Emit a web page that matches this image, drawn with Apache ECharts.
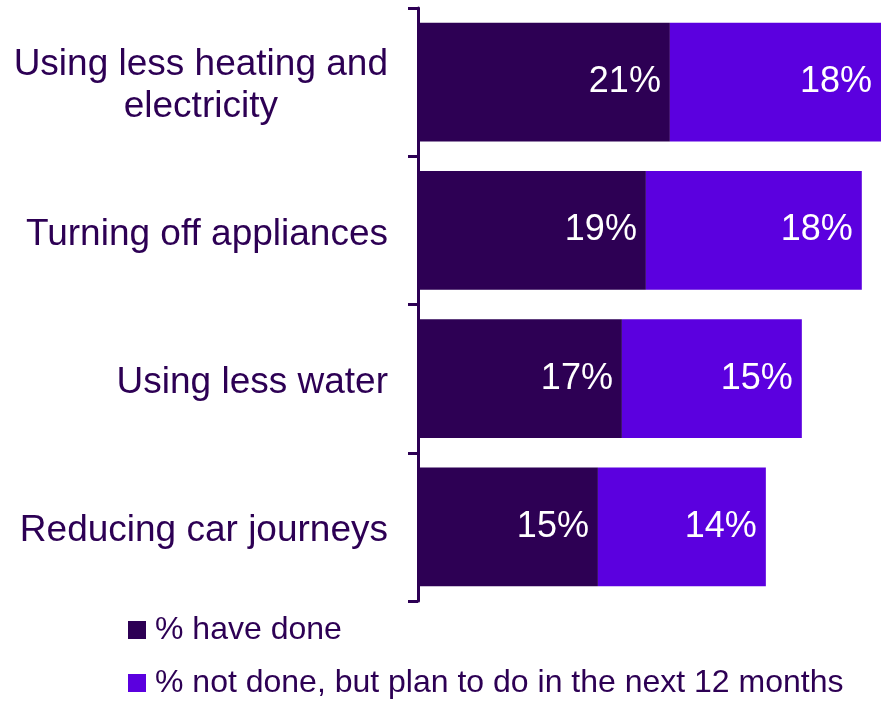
<!DOCTYPE html>
<html>
<head>
<meta charset="utf-8">
<script src="https://cdn.jsdelivr.net/npm/echarts@6/dist/echarts.min.js"></script>
<style>
html,body{margin:0;padding:0;background:#fff;}
#chart{width:881px;height:701px;}
</style>
</head>
<body>
<div id="chart"></div>
<script>
var categories = ["Using less heating and\nelectricity", "Turning off appliances", "Using less water", "Reducing car journeys"];
var haveDone = [21, 19, 17, 15];
var planToDo = [18, 18, 15, 14];
var seriesNames = ["% have done", "% not done, but plan to do in the next 12 months"];

var DARK = '#2D0054';
var LIGHT = '#5B00DF';
var TEXT = '#2D0054';
var FONT = '"Liberation Sans", Arial, sans-serif';

var chart = echarts.init(document.getElementById('chart'), null, {renderer: 'canvas'});
var labelStyle = {
  show: true,
  position: 'insideRight',
  distance: 9,
  color: '#ffffff',
  fontFamily: FONT,
  fontSize: 36,
  padding: [7, 0, 0, 0],
  formatter: '{c}%'
};
function legendFor(name, top) {
  return {
    orient: 'vertical',
    left: 123,
    top: top,
    itemWidth: 18,
    itemHeight: 18,
    icon: 'rect',
    selectedMode: false,
    textStyle: {
      color: TEXT,
      fontFamily: FONT,
      fontSize: 32,
      lineHeight: 36,
      padding: [0, 0, 0, 4]
    },
    data: [name]
  };
}
chart.setOption({
  animation: false,
  backgroundColor: '#ffffff',
  grid: {left: 418, right: 0, top: 8, bottom: 100, containLabel: false},
  legend: [legendFor(seriesNames[0], 607), legendFor(seriesNames[1], 660)],
  xAxis: {type: 'value', min: 0, max: 38.6, show: false},
  yAxis: {
    type: 'category',
    inverse: true,
    data: categories,
    axisLine: {show: true, lineStyle: {color: DARK, width: 3}},
    axisTick: {show: true, length: 10, lineStyle: {color: DARK, width: 3}},
    axisLabel: {
      margin: 30,
      align: 'right',
      color: TEXT,
      fontFamily: FONT,
      fontSize: 37,
      lineHeight: 42,
      padding: [8, 0, 0, 0],
      formatter: function (v) {
        return v.split('\n').map(function (l) { return '{c|' + l + '}'; }).join('\n');
      },
      rich: {c: {align: 'center', fontSize: 37, lineHeight: 42, color: TEXT, fontFamily: FONT}}
    }
  },
  series: [
    {name: seriesNames[0], type: 'bar', stack: 'a', data: haveDone, barCategoryGap: '20%',
     itemStyle: {color: DARK}, label: labelStyle},
    {name: seriesNames[1], type: 'bar', stack: 'a', data: planToDo, barCategoryGap: '20%',
     itemStyle: {color: LIGHT}, label: labelStyle}
  ]
});
</script>
</body>
</html>
